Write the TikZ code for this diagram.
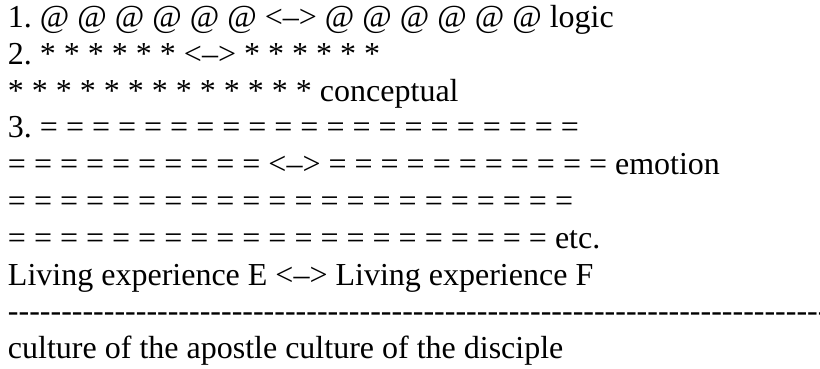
\documentclass[tikz,border=0pt]{standalone}
\usepackage{fontspec}
\setmainfont{Liberation Serif}
\frenchspacing
\newcommand\hyph{-\kern0pt}
\newcommand\hypht{\hyph\hyph\hyph\hyph\hyph\hyph\hyph\hyph\hyph\hyph}
\newcommand\arr{<\textendash>}
\begin{document}
\begin{tikzpicture}[x=0.5pt,y=-0.5pt,
  txt/.style={anchor=base west, inner sep=0pt, outer sep=0pt, font=\fontsize{16}{18.4}\selectfont}]
\useasboundingbox (0,0) rectangle (820,369);
\clip (0,0) rectangle (820,369);
\node[txt] (l1) at (8,27.5) {1. @ @ @ @ @ @ \arr{} @ @ @ @ @ @ logic};
\node[txt] (l2) at (8,64.3) {2. * * * * * * \arr{} * * * * * *};
\node[txt] (l3) at (8,101.1) {* * * * * * * * * * * * * conceptual};
\node[txt] (l4) at (8,137.9) {3. = = = = = = = = = = = = = = = = = = = = =};
\node[txt] (l5) at (8,174.7) {= = = = = = = = = = \arr{} = = = = = = = = = = = emotion};
\node[txt] (l6) at (8,211.5) {= = = = = = = = = = = = = = = = = = = = = =};
\node[txt] (l7) at (8,248.3) {= = = = = = = = = = = = = = = = = = = = = etc.};
\node[txt] (l8) at (8,285.1) {Living experience E \arr{} Living experience F};
\node[txt] (l9) at (8,321.9) {\hypht\hypht\hypht\hypht\hypht\hypht\hypht\hypht};
\node[txt] (l10) at (8,358.7) {culture of the apostle culture of the disciple};
\end{tikzpicture}
\end{document}
